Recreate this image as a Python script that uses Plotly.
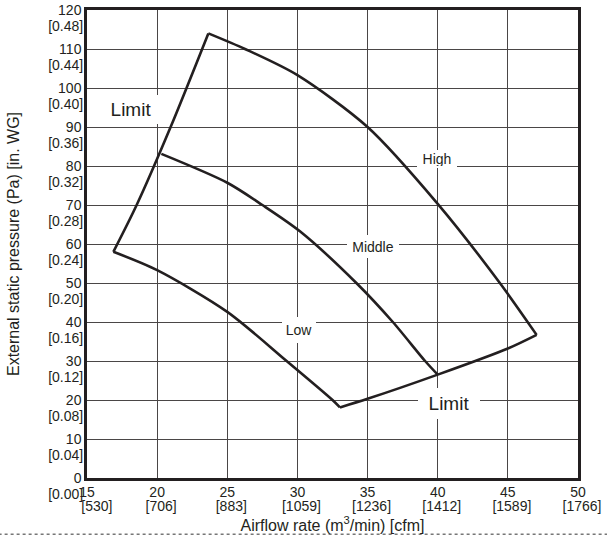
import plotly.graph_objects as go

# ---- data ----
x_ticks = [15, 20, 25, 30, 35, 40, 45, 50]
x_cfm = ["530", "706", "883", "1059", "1236", "1412", "1589", "1766"]
y_ticks = [0, 10, 20, 30, 40, 50, 60, 70, 80, 90, 100, 110, 120]
y_inwg = ["0.00", "0.04", "0.08", "0.12", "0.16", "0.20", "0.24", "0.28",
          "0.32", "0.36", "0.40", "0.44", "0.48"]

high_x = [23.65, 26.26, 30.0, 35.0, 40.0, 44.43, 47.05]
high_y = [114.0, 110.0, 103.3, 90.0, 70.3, 50.0, 36.7]

mid_x = [20.3, 25.0, 27.5, 30.2, 34.2, 36.8, 39.1, 40.0]
mid_y = [83.1, 75.7, 70.0, 63.2, 50.0, 40.0, 30.0, 26.5]

low_x = [16.88, 20.0, 25.0, 29.23, 32.5, 33.03]
low_y = [58.0, 53.3, 42.6, 30.0, 20.0, 18.1]

limit_left_x = [16.88, 18.54, 20.96, 23.65]
limit_left_y = [58.0, 70.0, 90.0, 114.0]

limit_bot_x = [33.03, 35.0, 40.0, 45.0, 47.05]
limit_bot_y = [18.1, 20.3, 26.5, 33.2, 36.7]

labels = ["Limit", "Limit", "High", "Middle", "Low"]
label_x = [18.14, 40.80, 39.95, 35.39, 30.11]
label_y = [94.5, 19.1, 81.8, 59.4, 37.9]

# ---- styling ----
INK = "#231f20"
GRID = "rgb(74,70,70)"
FONT = "Liberation Sans, Arial, sans-serif"
TICKFONT = dict(family=FONT, size=14, color=INK)
TITLEFONT = dict(family=FONT, size=16, color=INK)

fig = go.Figure()
for xs, ys in [(high_x, high_y), (mid_x, mid_y), (low_x, low_y),
               (limit_left_x, limit_left_y), (limit_bot_x, limit_bot_y)]:
    fig.add_trace(go.Scatter(x=xs, y=ys, mode="lines",
                             line=dict(color=INK, width=2.6, shape="spline", smoothing=0.8),
                             hoverinfo="skip", showlegend=False))
# empty traces so the second label rows (bracketed units) get their own axes
fig.add_trace(go.Scatter(x=[], y=[], xaxis="x2", yaxis="y", showlegend=False, hoverinfo="skip"))
fig.add_trace(go.Scatter(x=[], y=[], xaxis="x", yaxis="y2", showlegend=False, hoverinfo="skip"))

box = [  # (font size, width, height, pad)
    (19, 56, 21, 4),
    (19, 54, 23, 4),
    (14, 36, 14, 2),
    (14, 48, 19, 2),
    (14, 30, 22, 2),
]
for t, lx, ly, (fs, w, h, p) in zip(labels, label_x, label_y, box):
    fig.add_annotation(x=lx, y=ly, text=t, showarrow=False,
                       font=dict(family=FONT, size=fs, color=INK),
                       bgcolor="white", borderwidth=0, borderpad=p,
                       width=w, height=h, xanchor="center", yanchor="middle")

x_unit_text = [f"[{b}]" for b in x_cfm]
x_unit_text[0] = "\u00a0\u00a0\u00a0" + x_unit_text[0]

fig.update_layout(
    template="none",
    width=607, height=537,
    margin=dict(l=87, r=29, t=10, b=59),
    paper_bgcolor="white", plot_bgcolor="white",
    font=dict(family=FONT, size=14, color=INK),
    showlegend=False,
    xaxis=dict(
        range=[15, 50], tickmode="array", tickvals=x_ticks,
        ticktext=[str(v) for v in x_ticks],
        showgrid=True, gridcolor=GRID, gridwidth=1.2,
        showline=True, linecolor=INK, linewidth=2.5, mirror=True,
        ticks="outside", ticklen=0, tickcolor=INK, zeroline=False, automargin=False,
        ticklabelstandoff=-1, tickfont=TICKFONT,
    ),
    xaxis2=dict(
        overlaying="x", anchor="y", side="bottom",
        range=[15, 50], tickmode="array", tickvals=x_ticks, ticktext=x_unit_text,
        showgrid=False, showline=False, zeroline=False,
        ticks="outside", ticklen=0, automargin=False,
        ticklabelstandoff=15, ticklabelshift=4, tickfont=TICKFONT,
        title=dict(text="Airflow rate (m<sup>3</sup>/min) [cfm]", font=TITLEFONT, standoff=0),
    ),
    yaxis=dict(
        range=[0, 120], tickmode="array", tickvals=y_ticks,
        ticktext=[str(v) for v in y_ticks],
        showgrid=True, gridcolor=GRID, gridwidth=1.2,
        showline=True, linecolor=INK, linewidth=2.5, mirror=True,
        ticks="outside", ticklen=0, tickcolor=INK, zeroline=False, automargin=False,
        tickfont=TICKFONT,
        title=dict(text="External static pressure (Pa) [in. WG]", font=TITLEFONT, standoff=35),
    ),
    yaxis2=dict(
        overlaying="y", anchor="x", side="left",
        range=[0, 120], tickmode="array", tickvals=y_ticks,
        ticktext=[f"[{b}]" for b in y_inwg],
        showgrid=False, showline=False, zeroline=False,
        ticks="outside", ticklen=0, automargin=False,
        ticklabelshift=16, tickfont=TICKFONT,
    ),
)
fig.add_shape(type="line", xref="paper", yref="paper",
              x0=-0.18, x1=1.06, y0=-0.12, y1=-0.12,
              line=dict(color="#777777", width=1.5, dash="dot"))

fig.write_html("out.html", config={"displayModeBar": False},
               post_script="document.body.style.margin='0';document.body.style.overflow='hidden';")
